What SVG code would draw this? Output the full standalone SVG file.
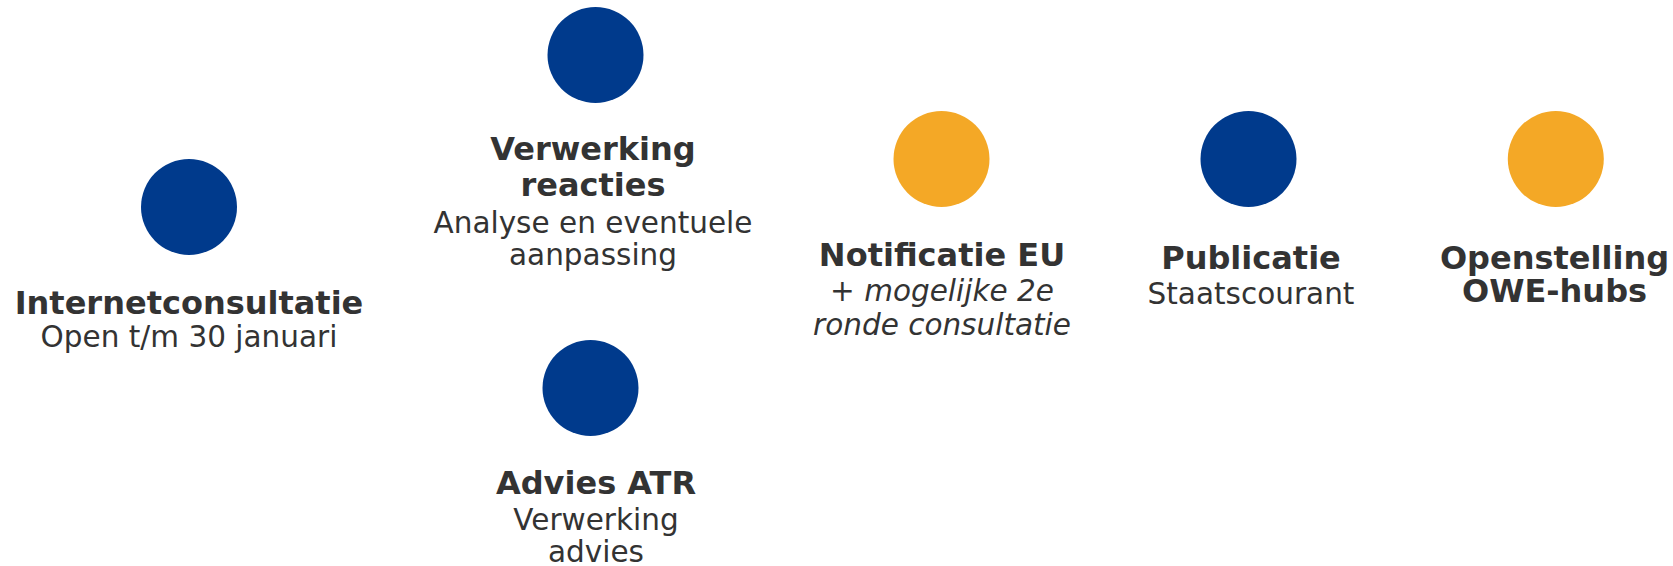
<svg xmlns="http://www.w3.org/2000/svg" width="1673" height="566" viewBox="0 0 1673 566">
<style>
.blue{fill:#003A8C}
.orange{fill:#F4A826}
text{font-family:"DejaVu Sans","Verdana",sans-serif;fill:#333333;text-anchor:middle}
.b{font-weight:bold;font-size:32px}
.r{font-size:29.5px}
.i{font-size:29.5px;font-style:italic}
</style>
<rect width="1673" height="566" fill="#FFFFFF"/>
<g id="connectors"/>
<g id="node-internetconsultatie">
<circle class="blue" cx="189" cy="207" r="48"/>
<text class="b" x="189" y="314">Internetconsultatie</text>
<text class="r" x="189" y="347">Open t/m 30 januari</text>
</g>
<g id="node-verwerking-reacties">
<circle class="blue" cx="595.5" cy="55" r="48"/>
<text class="b" x="593" y="160">Verwerking</text>
<text class="b" x="593" y="196">reacties</text>
<text class="r" x="593" y="233">Analyse en eventuele</text>
<text class="r" x="593" y="265">aanpassing</text>
</g>
<g id="node-advies-atr">
<circle class="blue" cx="590.5" cy="388" r="48"/>
<text class="b" x="596" y="494">Advies ATR</text>
<text class="r" x="596" y="530">Verwerking</text>
<text class="r" x="596" y="562">advies</text>
</g>
<g id="node-notificatie-eu">
<circle class="orange" cx="941.5" cy="159" r="48"/>
<text class="b" x="942" y="266">Notificatie EU</text>
<text class="i" x="942" y="301">+ mogelijke 2e</text>
<text class="i" x="942" y="335">ronde consultatie</text>
</g>
<g id="node-publicatie">
<circle class="blue" cx="1248.5" cy="159" r="48"/>
<text class="b" x="1251" y="269">Publicatie</text>
<text class="r" x="1251" y="304">Staatscourant</text>
</g>
<g id="node-openstelling">
<circle class="orange" cx="1555.8" cy="159" r="48"/>
<text class="b" x="1554.5" y="269">Openstelling</text>
<text class="b" x="1554.5" y="302">OWE-hubs</text>
</g>
</svg>
